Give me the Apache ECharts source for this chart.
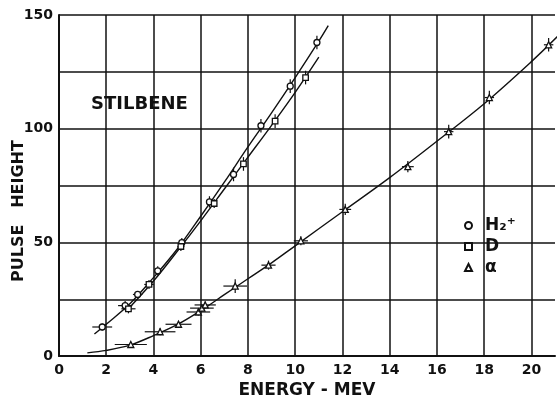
<!DOCTYPE html>
<html>
<head>
<meta charset="utf-8">
<script src="https://cdn.jsdelivr.net/npm/echarts@6/dist/echarts.min.js"></script>
<style>
html,body{margin:0;padding:0;background:#fff;}
#chart{width:558px;height:404px;}
</style>
</head>
<body>
<div id="chart"></div>
<script>
// ---- Data ----
// H2+ measured points (energy MeV, pulse height) and error bar half-widths
const h2X    = [1.83, 2.80, 3.33, 4.18, 5.20, 6.37, 7.39, 8.55, 9.79, 10.92];
const h2Y    = [12.8, 22.2, 27.1, 37.5, 49.9, 67.8, 79.9, 101.3, 118.7, 137.9];
const h2XErr = [0.42, 0.30, 0.20, 0.15, 0.15, 0.12, 0.10, 0.10, 0.10, 0.10];
const h2YErr = [1.5, 2, 1.5, 2, 2, 2.5, 3, 3, 3, 3];
// D measured points
const dX     = [2.94, 3.81, 5.16, 6.57, 7.81, 9.15, 10.44];
const dY     = [20.8, 31.5, 48.2, 67.1, 84.5, 103.3, 122.5];
const dXErr  = [0.30, 0.20, 0.15, 0.12, 0.10, 0.10, 0.10];
const dYErr  = [2, 2, 2, 2, 3, 3, 3];
// alpha measured points
const aX     = [3.04, 4.28, 5.06, 5.90, 6.05, 6.19, 7.46, 8.87, 10.24, 12.12, 14.77, 16.50, 18.22, 20.73];
const aY     = [5.1, 10.7, 14.0, 19.4, 21.1, 22.5, 30.8, 40.0, 50.7, 64.5, 83.3, 98.7, 113.7, 136.9];
const aXErr  = [0.68, 0.65, 0.55, 0.50, 0.50, 0.45, 0.50, 0.30, 0.30, 0.25, 0.25, 0.20, 0.20, 0.20];
const aYErr  = [1, 1.5, 1.5, 1.5, 1.5, 1.5, 3, 2, 2, 2.5, 2.5, 3, 3, 3];
// fitted curves
const h2FitX = [1.5, 2, 3, 4, 5, 6, 7, 8, 9, 10, 11, 11.4];
const h2FitY = [9.7, 14, 23, 34.5, 47, 61.5, 76.5, 92, 107, 122.5, 138.5, 145.3];
const dFitX  = [2.8, 3, 4, 5, 6, 7, 8, 9, 10, 11];
const dFitY  = [19.7, 21.5, 33, 46, 59.5, 73.5, 87.5, 101.5, 116, 131.5];
const aFitX  = [1.2, 2, 3, 4, 5, 6, 7, 8, 9, 10, 12, 14, 16, 18, 20, 21.1];
const aFitY  = [1.4, 2.5, 4.8, 9, 13.8, 20, 27, 34, 41, 48.5, 63.5, 78.5, 94.5, 111, 129.5, 140.5];
// axis ticks
const xTickLabels = [0, 2, 4, 6, 8, 10, 12, 14, 16, 18, 20];
const xGridLines  = [2, 4, 6, 8, 10, 12, 14, 16, 18, 20];
const yTickLabels = [0, 50, 100, 150];
const seriesNames = ['H₂⁺', 'D', 'α'];

// ---- helpers ----
const zip2 = (a, b) => a.map((v, i) => [v, b[i]]);
const zip4 = (a, b, c, d) => a.map((v, i) => [v, b[i], c[i], d[i]]);
const FONT = 'DejaVu Sans';
const INK = '#111';

function errRender(params, api) {
  const x = api.value(0), y = api.value(1), xe = api.value(2), ye = api.value(3);
  const l = api.coord([x - xe, y]), r = api.coord([x + xe, y]);
  const t = api.coord([x, y + ye]), b = api.coord([x, y - ye]);
  const st = { stroke: INK, lineWidth: 1.2 };
  return {
    type: 'group',
    children: [
      { type: 'line', shape: { x1: l[0], y1: l[1], x2: r[0], y2: r[1] }, style: st },
      { type: 'line', shape: { x1: t[0], y1: t[1], x2: b[0], y2: b[1] }, style: st }
    ]
  };
}

function fitSeries(xs, ys) {
  return {
    type: 'line', data: zip2(xs, ys), smooth: 0.35, showSymbol: false, symbol: 'none',
    lineStyle: { color: INK, width: 1.4 }, silent: true, z: 3
  };
}
function errSeries(xs, ys, xe, ye) {
  return { type: 'custom', renderItem: errRender, data: zip4(xs, ys, xe, ye), silent: true, z: 4 };
}
function pointSeries(name, xs, ys, symbol, size) {
  return {
    name: name, type: 'scatter', data: zip2(xs, ys), symbol: symbol, symbolSize: size,
    itemStyle: { color: '#fff', borderColor: INK, borderWidth: 1.3, opacity: 1 }, z: 5
  };
}

const chart = echarts.init(document.getElementById('chart'), null, { renderer: 'canvas' });
chart.setOption({
  animation: false,
  backgroundColor: '#fff',
  grid: { left: 59, right: 3, top: 15, bottom: 38, containLabel: false },
  xAxis: {
    type: 'value', min: 0, max: 21, interval: 2,
    name: 'ENERGY - MEV', nameLocation: 'middle', nameGap: 15,
    nameTextStyle: { fontFamily: FONT, fontWeight: 'bold', fontSize: 17, color: INK },
    axisLine: { show: true, lineStyle: { color: INK, width: 2 } },
    axisTick: { show: false },
    splitLine: { show: false },
    axisLabel: {
      margin: 7, fontFamily: FONT, fontWeight: 'bold', fontSize: 14, color: INK,
      showMaxLabel: false,
      formatter: v => xTickLabels.indexOf(v) >= 0 ? String(v) : ''
    }
  },
  yAxis: {
    type: 'value', min: 0, max: 150, interval: 25,
    axisLine: { show: true, lineStyle: { color: INK, width: 2 } },
    axisTick: { show: false },
    splitLine: { show: true, lineStyle: { color: INK, width: 1.5 } },
    axisLabel: {
      margin: 6, fontFamily: FONT, fontWeight: 'bold', fontSize: 14, color: INK,
      formatter: v => yTickLabels.indexOf(v) >= 0 ? String(v) : ''
    }
  },
  legend: {
    data: seriesNames,
    orient: 'vertical', left: 464, top: 217,
    itemWidth: 7, itemHeight: 7, itemGap: 4, padding: 0,
    selectedMode: false,
    textStyle: { fontFamily: FONT, fontWeight: 'bold', fontSize: 17, lineHeight: 16.5, color: INK, padding: [0, 0, 0, 8] }
  },
  graphic: [
    {
      type: 'text', x: 19, y: 211, rotation: Math.PI / 2, silent: true,
      style: { text: 'PULSE   HEIGHT', font: 'bold 16px "DejaVu Sans"', fill: INK, align: 'center', verticalAlign: 'middle' }
    },
    {
      type: 'text', left: 91, top: 95, silent: true,
      style: { text: 'STILBENE', font: 'bold 18px "DejaVu Sans"', fill: INK }
    }
  ],
  series: [
    {
      type: 'line', data: [], silent: true, z: 1,
      markLine: {
        silent: true, symbol: 'none', label: { show: false }, animation: false,
        lineStyle: { color: INK, width: 1.5, type: 'solid' },
        data: xGridLines.map(v => ({ xAxis: v }))
      }
    },
    fitSeries(h2FitX, h2FitY),
    fitSeries(dFitX, dFitY),
    fitSeries(aFitX, aFitY),
    errSeries(h2X, h2Y, h2XErr, h2YErr),
    errSeries(dX, dY, dXErr, dYErr),
    errSeries(aX, aY, aXErr, aYErr),
    pointSeries(seriesNames[0], h2X, h2Y, 'circle', 6),
    pointSeries(seriesNames[1], dX, dY, 'rect', 5.5),
    pointSeries(seriesNames[2], aX, aY, 'triangle', 6)
  ]
});
</script>
</body>
</html>
